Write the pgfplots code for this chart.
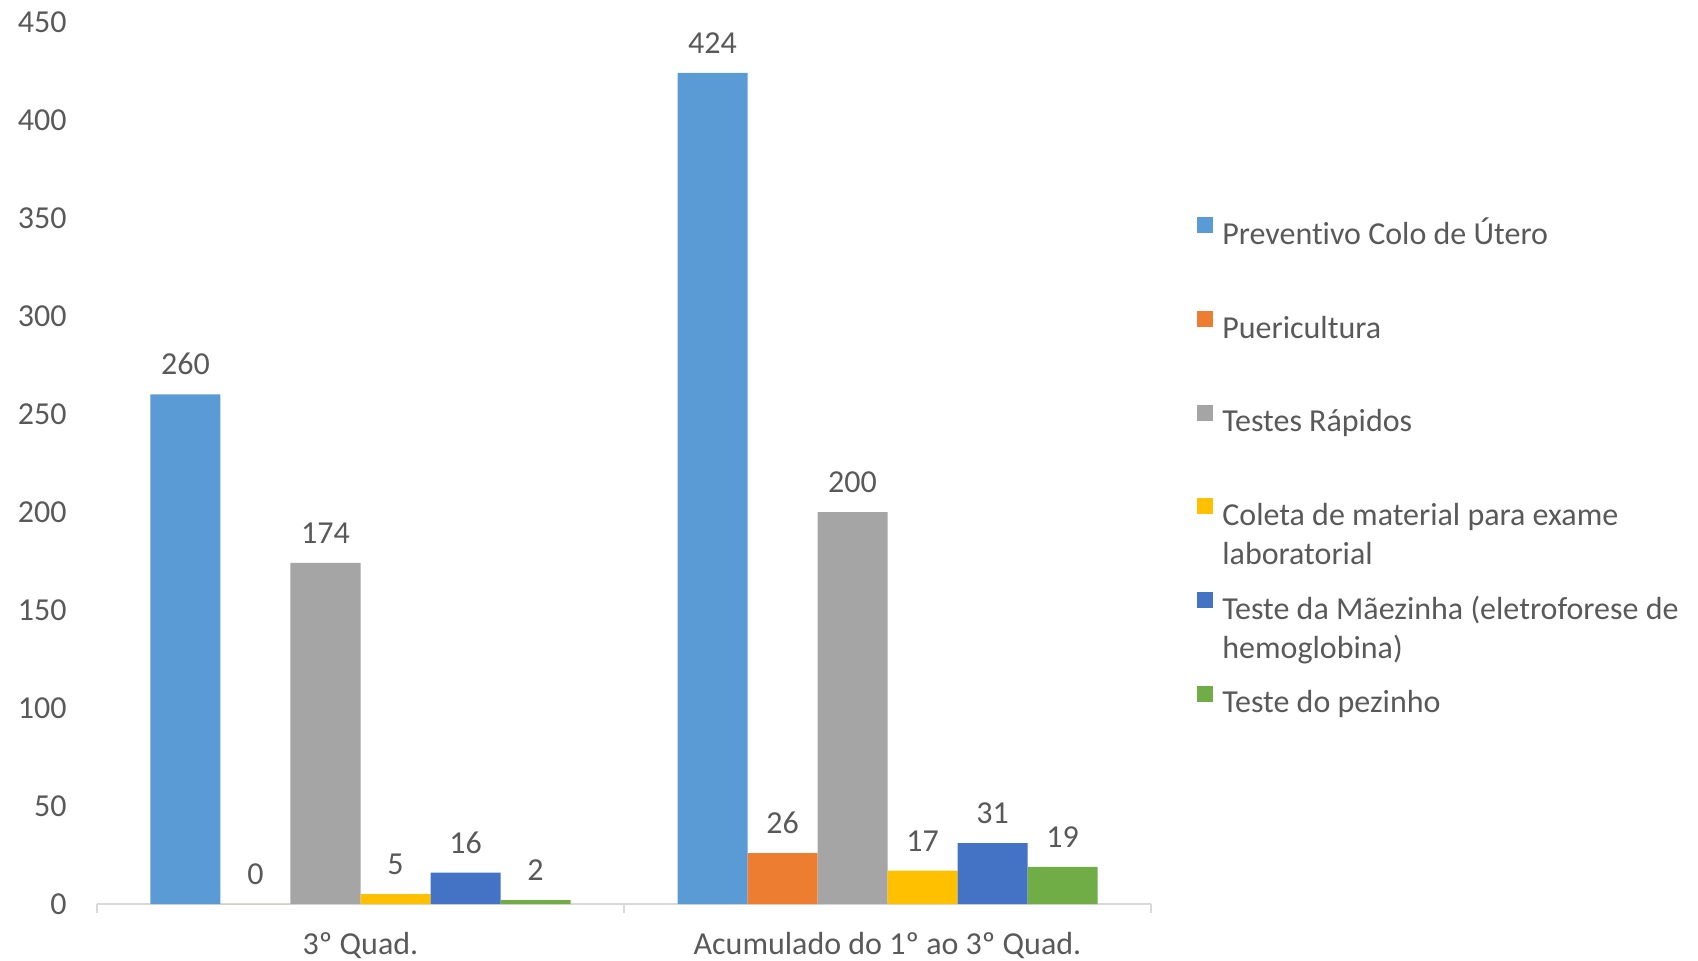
\documentclass[border=0pt]{standalone}
\usepackage{fontspec}
\setmainfont{Carlito}[Ligatures=NoCommon]
\usepackage{pgfplots}
\pgfplotsset{compat=1.18}
\definecolor{c1}{HTML}{5B9BD5}
\definecolor{c2}{HTML}{ED7D31}
\definecolor{c3}{HTML}{A5A5A5}
\definecolor{c4}{HTML}{FFC000}
\definecolor{c5}{HTML}{4472C4}
\definecolor{c6}{HTML}{70AD47}
\definecolor{txt}{HTML}{595959}
\definecolor{axl}{HTML}{D9D9D9}
\begin{document}
\fontsize{16}{19.5}\selectfont
\begin{tikzpicture}
\useasboundingbox (-48.5pt,-28pt) rectangle (800.5pt,452pt);
\begin{axis}[
  at={(0pt,0pt)}, anchor=south west,
  scale only axis, width=527pt, height=441pt,
  ybar=0pt, bar width=35pt,
  xmin=-0.5, xmax=1.5, ymin=0, ymax=450,
  ytick={0,50,...,450},
  xtick={0,1}, xticklabels={3º Quad., Acumulado do 1º ao 3º Quad.},
  extra x ticks={-0.5,0.5,1.5}, extra x tick labels={},
  extra x tick style={major tick length=4.5pt, tick align=outside, xtick style={draw=axl, line width=0.8pt}},
  axis x line*=bottom, axis y line*=left,
  x axis line style={draw=axl, line width=0.8pt, -},
  y axis line style={draw=none},
  xtick style={draw=none}, ytick style={draw=none},
  /pgf/number format/assume math mode=true,
  tick label style={font=\fontsize{16}{19}\selectfont, text=txt},
  yticklabel style={anchor=east, inner sep=0pt, xshift=-15pt},
  xticklabel style={anchor=base, inner sep=0pt, yshift=-21pt},
  nodes near coords,
  nodes near coords style={font=\fontsize{16}{19}\selectfont, text=txt, anchor=south, inner sep=0pt, yshift=9.5pt},
  legend image code/.code={\fill[#1] (0pt,1.5pt) rectangle (8pt,9.5pt);},
  legend style={draw=none, fill=none, at={(1.0436,0.779)}, anchor=north west,
    inner sep=0pt, row sep=30.35pt, column sep=4.5pt,
    font=\fontsize{16}{19.5}\selectfont, text=txt,
    nodes={inner sep=0pt, text height=11pt, text depth=3pt}},
  legend cell align=left,
]
\addplot[fill=c1, draw=none] coordinates {(0,260) (1,424)};
\addlegendentry{Preventivo Colo de Útero}
\addplot[fill=c2, draw=none] coordinates {(0,0) (1,26)};
\addlegendentry{Puericultura}
\addplot[fill=c3, draw=none] coordinates {(0,174) (1,200)};
\addlegendentry{Testes Rápidos}
\addplot[fill=c4, draw=none] coordinates {(0,5) (1,17)};
\addlegendentry{\begin{tabular}[t]{@{}l@{}}Coleta de material para exame\\laboratorial\end{tabular}}
\addplot[fill=c5, draw=none] coordinates {(0,16) (1,31)};
\addlegendentry{\begin{tabular}[t]{@{}l@{}}Teste da Mãezinha (eletroforese de\\hemoglobina)\end{tabular}}
\addplot[fill=c6, draw=none] coordinates {(0,2) (1,19)};
\addlegendentry{Teste do pezinho}
\end{axis}
\end{tikzpicture}
\end{document}
